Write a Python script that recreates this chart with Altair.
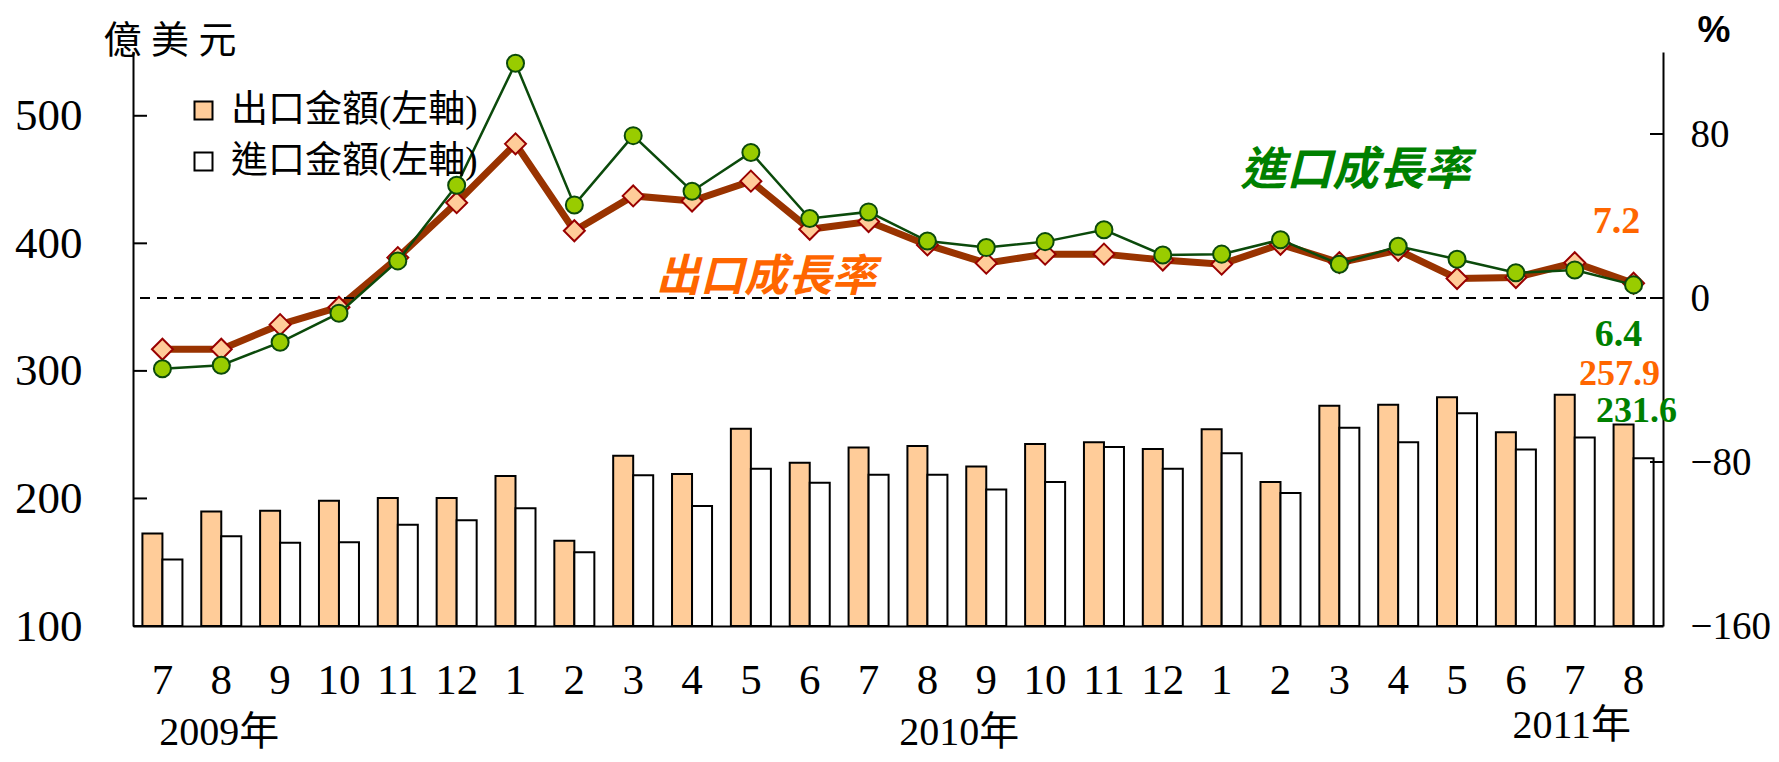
import altair as alt
import pandas as pd

# ---------------- data ----------------
months = ["7", "8", "9", "10", "11", "12", "1", "2", "3", "4", "5", "6", "7",
          "8", "9", "10", "11", "12", "1", "2", "3", "4", "5", "6", "7", "8"]
years = [2009] * 6 + [2010] * 12 + [2011] * 8

export_amt = [172.5, 189.8, 190.3, 198.2, 200.3, 200.3, 217.5, 166.8, 233.5, 219.1,
              254.7, 227.9, 239.9, 241.2, 225.0, 242.7, 244.0, 238.8, 254.2, 212.8,
              272.7, 273.5, 279.3, 251.8, 281.2, 257.9]
import_amt = [152.1, 170.4, 165.2, 165.7, 179.3, 183.0, 192.4, 157.9, 218.1, 194.0,
              223.3, 212.3, 218.5, 218.5, 207.0, 212.8, 240.4, 223.2, 235.5, 204.2,
              255.5, 244.0, 266.8, 238.4, 247.8, 231.6]
export_rate = [-25.0, -25.0, -13.0, -4.5, 19.7, 46.5, 75.2, 32.8, 49.8, 47.3,
               57.0, 33.5, 37.3, 25.9, 17.0, 21.4, 21.4, 18.5, 16.5, 26.2,
               17.3, 23.3, 9.5, 10.0, 17.2, 7.2]
import_rate = [-34.5, -32.8, -21.6, -7.4, 18.1, 55.0, 114.5, 45.4, 79.2, 52.1,
               71.0, 38.8, 42.0, 27.8, 24.6, 27.5, 33.3, 21.0, 21.4, 28.4,
               16.5, 25.2, 18.9, 12.3, 13.7, 6.4]

series_names = ["出口金額(左軸)", "進口金額(左軸)"]
left_ticks = [100, 200, 300, 400, 500]
right_ticks = [-160, -80, 0, 80]

keys = [f"{y}-{m}" for y, m in zip(years, months)]

df_bars = pd.DataFrame({
    "key": keys * 2,
    "series": [series_names[0]] * len(keys) + [series_names[1]] * len(keys),
    "amount": export_amt + import_amt,
})
df_rates = pd.DataFrame({"key": keys, "exp_rate": export_rate, "imp_rate": import_rate})
df_lt = pd.DataFrame({"tick": left_ticks})
df_rt = pd.DataFrame({"tick": right_ticks})
df_zero = pd.DataFrame({"z": [0]})

# ---------------- styling ----------------
W, H = 1530, 574
SERIF = "Liberation Serif, 'Noto Sans CJK TC'"
CJK = "'Noto Sans CJK TC'"
ORANGE = "#FF6600"
GREEN = "#008000"

x_scale = alt.Scale(domain=keys, paddingInner=0.32, paddingOuter=0.16)
x_axis = alt.Axis(labelExpr="slice(datum.value, 5)", labelAngle=0, ticks=False,
                  domainColor="black", domainWidth=2, labelFont=SERIF, labelFontSize=43,
                  labelColor="black", labelPadding=33, title=None, grid=False,
                  labelOverlap=False)
yl_scale = alt.Scale(domain=[100, 550], nice=False, zero=False)
yr_scale = alt.Scale(domain=[-160, 120], nice=False, zero=False)

yl_axis = alt.Axis(orient="left", values=left_ticks, ticks=False, grid=False,
                   domainColor="black", domainWidth=2, labelFont=SERIF, labelFontSize=45,
                   labelColor="black", labelPadding=51, title="億 美 元", titleAngle=0,
                   titleX=-30, titleY=-11, titleAlign="left", titleBaseline="middle",
                   titleFont=SERIF, titleFontSize=38, titleFontWeight="normal",
                   titleColor="black")
yr_axis = alt.Axis(orient="right", values=right_ticks, ticks=False, grid=False,
                   domainColor="black", domainWidth=2, labelFont=SERIF, labelFontSize=39,
                   labelColor="black", labelPadding=27, title="%", titleAngle=0,
                   titleX=34, titleY=-22, titleAlign="left", titleBaseline="middle",
                   titleFont="Liberation Sans", titleFontSize=37, titleFontWeight="bold",
                   titleColor="black")

legend = alt.Legend(orient="none", legendX=52, legendY=40, title=None,
                    symbolType="square", symbolSize=324, symbolStrokeColor="black",
                    symbolStrokeWidth=2, symbolOpacity=1, labelFont=SERIF,
                    labelFontSize=37, labelColor="black", labelOffset=9,
                    rowPadding=13, labelLimit=500)


def xenc():
    return alt.X("key:N", scale=x_scale, axis=x_axis)


# ---------------- bars (left scale) ----------------
bars = alt.Chart(df_bars).mark_bar(stroke="black", strokeWidth=2, opacity=1).encode(
    x=xenc(),
    xOffset=alt.XOffset("series:N", scale=alt.Scale(domain=series_names, paddingInner=0, paddingOuter=0)),
    y=alt.Y("amount:Q", scale=yl_scale, axis=yl_axis),
    y2=alt.datum(100),
    color=alt.Color("series:N", scale=alt.Scale(domain=series_names, range=["#FFCC99", "#FFFFFF"]),
                    legend=legend),
)

# ---------------- growth-rate lines (right scale) ----------------
base = alt.Chart(df_rates)
exp_line = base.mark_line(color="#993300", strokeWidth=7).encode(
    x=xenc(), y=alt.Y("exp_rate:Q", scale=yr_scale, axis=yr_axis)
)
zero = alt.Chart(df_zero).mark_rule(color="black", strokeWidth=2, strokeDash=[10, 7]).encode(
    y=alt.Y("z:Q", scale=yr_scale, axis=None)
)
lticks = alt.Chart(df_lt).mark_rule(color="black", strokeWidth=2).encode(
    y=alt.Y("tick:Q", scale=yl_scale, axis=None),
    x=alt.value(0), x2=alt.value(14),
)
rticks = alt.Chart(df_rt).mark_rule(color="black", strokeWidth=2).encode(
    y=alt.Y("tick:Q", scale=yr_scale, axis=None),
    x=alt.value(W - 13), x2=alt.value(W),
)
exp_pts = base.mark_point(shape="diamond", filled=True, fill="#FFCC99", stroke="#990000",
                          strokeWidth=2, size=440, opacity=1).encode(
    x=xenc(), y=alt.Y("exp_rate:Q", scale=yr_scale, axis=None)
)
imp_line = base.mark_line(color="#0B4A0B", strokeWidth=2.5).encode(
    x=xenc(), y=alt.Y("imp_rate:Q", scale=yr_scale, axis=None)
)
imp_pts = base.mark_point(shape="circle", filled=True, fill="#99CC00", stroke="#0B4A0B",
                          strokeWidth=2, size=290, opacity=1).encode(
    x=xenc(), y=alt.Y("imp_rate:Q", scale=yr_scale, axis=None)
)


def note(text, key, y, color, size, font, dx=0, style="normal", weight="bold"):
    d = pd.DataFrame({"key": [key], "t": [text]})
    return alt.Chart(d).mark_text(color=color, fontSize=size, font=font, fontWeight=weight,
                                  fontStyle=style, align="center", baseline="middle",
                                  dx=dx).encode(x=xenc(), y=alt.value(y), text="t:N")


notes = [
    note("257.9", "2011-8", 322, ORANGE, 36, SERIF, dx=-14),
    note("231.6", "2011-8", 359, GREEN, 36, SERIF, dx=3),
    note("7.2", "2011-8", 170, ORANGE, 38, SERIF, dx=-17),
    note("6.4", "2011-8", 283, GREEN, 38, SERIF, dx=-15),
    note("出口成長率", "2010-5", 226, ORANGE, 44, CJK, dx=15, style="italic"),
    note("進口成長率", "2011-3", 119, GREEN, 46, CJK, dx=16, style="italic"),
    note("2009年", "2009-8", 681, "black", 40, SERIF, dx=-2, weight="normal"),
    note("2010年", "2010-9", 681, "black", 40, SERIF, dx=-27, weight="normal"),
    note("2011年", "2011-7", 674, "black", 40, SERIF, dx=-3, weight="normal"),
]

chart = alt.layer(
    bars, exp_line, zero, lticks, rticks, exp_pts, imp_line, imp_pts, *notes
).resolve_scale(y="independent").properties(
    width=W, height=H,
    padding={"left": 125, "top": 44, "right": 108, "bottom": 128},
    autosize=alt.AutoSizeParams(type="none"),
    background="white",
).configure_view(stroke=None)

chart.save("out.html", embed_options={"renderer": "svg", "actions": False})
